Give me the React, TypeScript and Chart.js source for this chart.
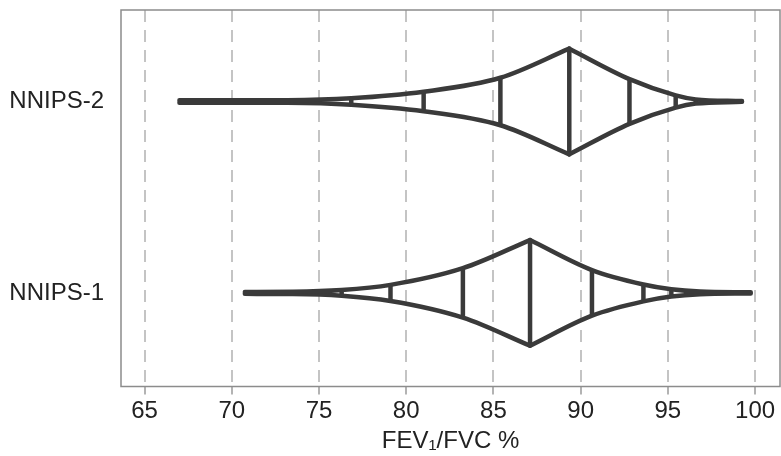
import { useEffect, useRef } from "react";
import { Chart, registerables } from "chart.js";

Chart.register(...registerables);

// ---- data ----
const categories = ["NNIPS-1", "NNIPS-2"];
const categoryPositions = [1, 2];

// letter values (FEV1/FVC %) and relative box half-widths for each group
const nnips1Values = [70.75, 73.5, 76.3, 79.1, 83.25, 87.1, 90.65, 93.6, 95.2, 96.85, 99.75];
const nnips1HalfWidths = [0.005, 0.006, 0.015, 0.042, 0.129, 0.276, 0.119, 0.044, 0.019, 0.007, 0.003];
const nnips1MedianIndex = 5;

const nnips2Values = [67.0, 73.2, 76.85, 81.0, 85.4, 89.35, 92.8, 95.45, 96.6, 99.25];
const nnips2HalfWidths = [0.006, 0.007, 0.017, 0.051, 0.124, 0.276, 0.117, 0.032, 0.011, 0.002];
const nnips2MedianIndex = 5;

const xTicks = [65, 70, 75, 80, 85, 90, 95, 100];
const xTitle = "FEV\u2081/FVC %";

// ---- styles ----
const INK = "#3a3a3a";
const FONT = "'Liberation Sans', Arial, sans-serif";

function outline(points: { x: number; y: number }[]) {
  return {
    data: points,
    borderColor: INK,
    borderWidth: 4.5,
    pointRadius: 0,
    fill: false,
    cubicInterpolationMode: "monotone" as const,
    borderCapStyle: "round" as const,
    borderJoinStyle: "round" as const,
  };
}

function segment(points: { x: number; y: number }[]) {
  return {
    data: points,
    borderColor: INK,
    borderWidth: 4.5,
    pointRadius: 0,
    fill: false,
    tension: 0,
    borderCapStyle: "butt" as const,
  };
}

function groupDatasets(center: number, values: number[], halves: number[], mid: number) {
  const ds: any[] = [];
  const up = values.map((v, i) => ({ x: v, y: center + halves[i] }));
  const lo = values.map((v, i) => ({ x: v, y: center - halves[i] }));
  ds.push(outline(up.slice(0, mid + 1)));
  ds.push(outline(up.slice(mid)));
  ds.push(outline(lo.slice(0, mid + 1)));
  ds.push(outline(lo.slice(mid)));
  for (let i = 1; i < values.length - 1; i++) {
    ds.push(segment([lo[i], up[i]]));
  }
  return ds;
}

const boxPlugin = {
  id: "plotBox",
  afterDraw(chart: any) {
    const { ctx, chartArea } = chart;
    ctx.save();
    ctx.strokeStyle = "#8c8c8c";
    ctx.lineWidth = 1.5;
    ctx.setLineDash([]);
    ctx.strokeRect(chartArea.left, chartArea.top, chartArea.right - chartArea.left, chartArea.bottom - chartArea.top);
    ctx.restore();
  },
};

export default function App() {
  const ref = useRef<HTMLCanvasElement | null>(null);

  useEffect(() => {
    if (!ref.current) return;
    const datasets = [
      ...groupDatasets(categoryPositions[0], nnips1Values, nnips1HalfWidths, nnips1MedianIndex),
      ...groupDatasets(categoryPositions[1], nnips2Values, nnips2HalfWidths, nnips2MedianIndex),
    ];
    const chart = new Chart(ref.current, {
      type: "line",
      data: { datasets },
      plugins: [boxPlugin],
      options: {
        responsive: false,
        animation: false,
        layout: { padding: { top: 10, right: 1, left: 0, bottom: 0 } },
        plugins: {
          legend: { display: false },
          tooltip: { enabled: false },
        },
        scales: {
          x: {
            type: "linear",
            min: 63.65,
            max: 101.43,
            afterBuildTicks: (s: any) => {
              s.ticks = xTicks.map((v) => ({ value: v }));
            },
            afterFit: (s: any) => {
              s.height = 69.5;
              s.paddingLeft = 0;
              s.paddingRight = 0;
            },
            grid: {
              color: "#c4c4c4",
              lineWidth: 2,
              drawTicks: true,
              tickLength: 8,
              tickColor: "#9a9a9a",
              tickWidth: 1.5,
              tickBorderDash: [],
              borderDash: [12, 8],
            } as any,
            border: { display: false, dash: [12, 8] },
            ticks: {
              color: "#222",
              padding: 2,
              maxRotation: 0,
              font: { family: FONT, size: 24 },
              callback: (v: any) => String(v),
            },
            title: {
              display: true,
              text: xTitle,
              color: "#222",
              font: { family: FONT, size: 24 },
              padding: { top: 0, bottom: 0 },
            },
          },
          y: {
            type: "linear",
            min: 0.511,
            max: 2.478,
            afterBuildTicks: (s: any) => {
              s.ticks = categoryPositions.map((v) => ({ value: v }));
            },
            afterFit: (s: any) => {
              s.width = 121;
              s.paddingTop = 0;
              s.paddingBottom = 0;
            },
            grid: { display: false },
            border: { display: false },
            ticks: {
              color: "#222",
              padding: 9,
              font: { family: FONT, size: 24 },
              callback: (v: any) => {
                const i = categoryPositions.indexOf(Number(v));
                return i >= 0 ? categories[i] : "";
              },
            },
          },
        },
      } as any,
    });
    return () => chart.destroy();
  }, []);

  return (
    <div style={{ position: "fixed", left: 0, top: 0, width: 781, height: 456, background: "#fff" }}>
      <canvas ref={ref} width={781} height={456} style={{ display: "block", width: 781, height: 456 }} />
    </div>
  );
}
